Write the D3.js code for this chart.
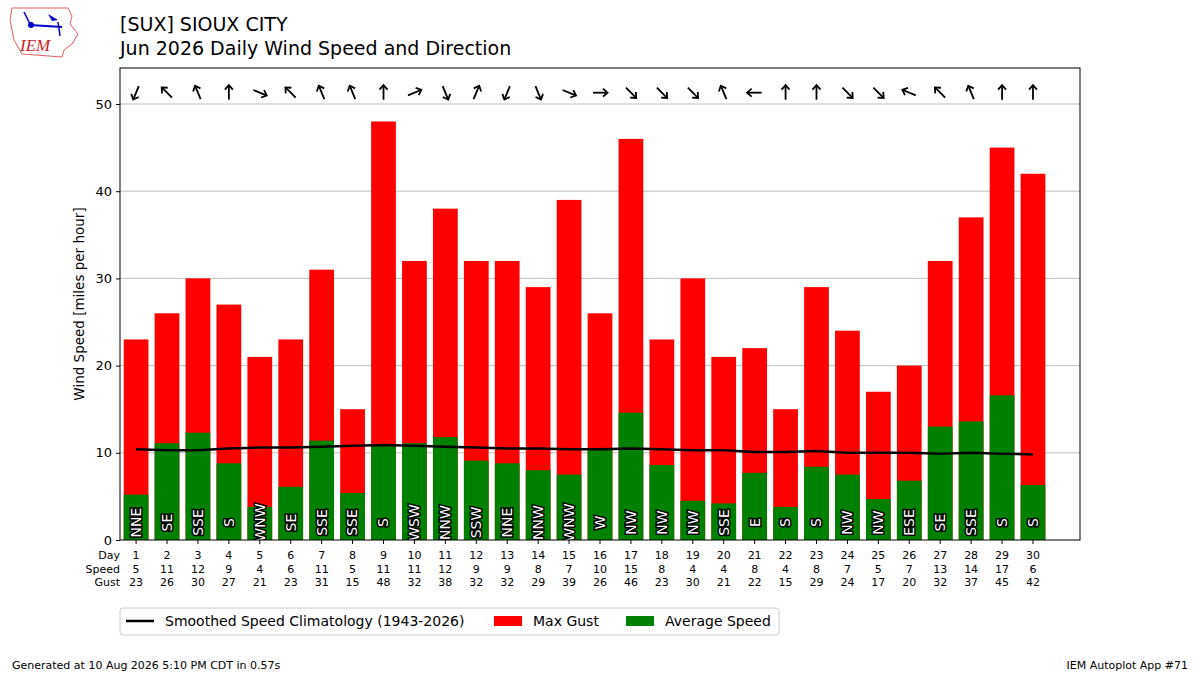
<!DOCTYPE html>
<html><head><meta charset="utf-8">
<script src="https://cdn.jsdelivr.net/npm/d3@7"></script>
<style>body{margin:0;background:#fff;font-family:"DejaVu Sans",sans-serif;}</style>
</head><body><svg id="c" width="1200" height="675"></svg>
<script>
// daily data, Jun 2026
const days = d3.range(1, 31);
const avgSpeed = [5.2,11.1,12.3,8.8,3.8,6.1,11.4,5.4,10.8,11.1,11.8,9.1,8.8,8.0,7.5,10.3,14.6,8.6,4.5,4.2,7.7,3.8,8.4,7.5,4.7,6.8,13.0,13.6,16.6,6.3];
const speedLbl = [5,11,12,9,4,6,11,5,11,11,12,9,9,8,7,10,15,8,4,4,8,4,8,7,5,7,13,14,17,6];
const gust = [23,26,30,27,21,23,31,15,48,32,38,32,32,29,39,26,46,23,30,21,22,15,29,24,17,20,32,37,45,42];
const dirs = ["NNE","SE","SSE","S","WNW","SE","SSE","SSE","S","WSW","NNW","SSW","NNE","NNW","WNW","W","NW","NW","NW","SSE","E","S","S","NW","NW","ESE","SE","SSE","S","S"];
const clim = [10.4,10.3,10.3,10.5,10.6,10.6,10.7,10.8,10.9,10.8,10.7,10.6,10.5,10.5,10.4,10.4,10.5,10.4,10.3,10.3,10.1,10.1,10.2,10.0,10.0,10.0,9.9,10.0,9.9,9.8];
const yTicks = [0,10,20,30,40,50];

const compass = ["N","NNE","NE","ENE","E","ESE","SE","SSE","S","SSW","SW","WSW","W","WNW","NW","NNW"];
const svg = d3.select("#c");
const L = 120, R = 1080, T = 68, B = 540;
const x = d3.scaleLinear().domain([0.48, 31.52]).range([L, R]);
const y = d3.scaleLinear().domain([0, 54.13]).range([B, T]);
const bw = x(1.4) - x(0.6);

svg.append("defs").append("clipPath").attr("id", "clip")
  .append("rect").attr("x", L).attr("y", T).attr("width", R - L).attr("height", B - T);

// grid
svg.append("g").selectAll("line").data(yTicks.slice(1)).join("line")
  .attr("x1", L).attr("x2", R).attr("y1", d => y(d)).attr("y2", d => y(d))
  .attr("stroke", "#b0b0b0").attr("stroke-width", 0.8);

const g = svg.append("g").attr("clip-path", "url(#clip)");
g.selectAll(".gust").data(days).join("rect")
  .attr("x", d => x(d) - bw / 2).attr("width", bw)
  .attr("y", (d, i) => y(gust[i])).attr("height", (d, i) => B - y(gust[i]))
  .attr("fill", "#ff0000");
g.selectAll(".avg").data(days).join("rect")
  .attr("x", d => x(d) - bw / 2).attr("width", bw)
  .attr("y", (d, i) => y(avgSpeed[i])).attr("height", (d, i) => B - y(avgSpeed[i]))
  .attr("fill", "#008000");
g.selectAll(".dl").data(days).join("text")
  .attr("transform", (d) => `translate(${x(d)},${y(2)}) rotate(-90)`)
  .attr("text-anchor", "middle").attr("dy", "0.35em")
  .attr("font-size", 14).attr("fill", "#fff").attr("stroke", "#000")
  .attr("stroke-width", 3).attr("paint-order", "stroke")
  .text((d, i) => dirs[i]);

g.append("path").datum(days)
  .attr("d", d3.line().x(d => x(d)).y((d, i) => y(clim[i])))
  .attr("fill", "none").attr("stroke", "#000").attr("stroke-width", 2.5);

// wind arrows (pointing downwind)
const ag = svg.append("g");
days.forEach((d, i) => {
  const deg = compass.indexOf(dirs[i]) * 22.5 + 180;
  const a = ag.append("g").attr("transform", `translate(${x(d)},${y(51.3)}) rotate(${deg})`);
  a.append("line").attr("x1", 0).attr("y1", 7).attr("x2", 0).attr("y2", -7)
    .attr("stroke", "#000").attr("stroke-width", 1.8);
  a.append("path").attr("d", "M-4,-3 L0,-7.5 L4,-3").attr("fill", "none")
    .attr("stroke", "#000").attr("stroke-width", 1.8);
});

// frame
svg.append("rect").attr("x", L).attr("y", T).attr("width", R - L).attr("height", B - T)
  .attr("fill", "none").attr("stroke", "#000").attr("stroke-width", 1);

// y axis
const ya = svg.append("g").attr("transform", `translate(${L},0)`)
  .call(d3.axisLeft(y).tickValues(yTicks).tickSize(4).tickPadding(4));
ya.select(".domain").remove();
ya.selectAll("text").attr("font-size", 13).attr("font-family", "DejaVu Sans");
svg.append("text").attr("transform", `translate(84,${(T + B) / 2}) rotate(-90)`)
  .attr("text-anchor", "middle").attr("font-size", 13.5).text("Wind Speed [miles per hour]");

// x ticks + 3 row labels
const xa = svg.append("g").attr("transform", `translate(0,${B})`);
xa.selectAll("line").data(days).join("line")
  .attr("x1", d => x(d)).attr("x2", d => x(d)).attr("y1", 0).attr("y2", 4).attr("stroke", "#000");
const rows = [["Day", days], ["Speed", speedLbl], ["Gust", gust]];
rows.forEach(([lab, vals], r) => {
  const yy = 559 + r * 13.5;
  xa.append("text").attr("x", 120).attr("y", yy - B).attr("text-anchor", "end")
    .attr("font-size", 11).text(lab);
  xa.selectAll(".r" + r).data(vals).join("text")
    .attr("x", (v, i) => x(i + 1)).attr("y", yy - B).attr("text-anchor", "middle")
    .attr("font-size", 11).text(v => v);
});

// titles
svg.append("text").attr("x", 120).attr("y", 31).attr("font-size", 19).text("[SUX] SIOUX CITY");
svg.append("text").attr("x", 120).attr("y", 55).attr("font-size", 19).text("Jun 2026 Daily Wind Speed and Direction");

// logo
const lg = svg.append("g");
lg.append("path").attr("d", "M12,8 L68,8 L72,16 L70,24 L78,34 L72,44 L64,50 L62,57 L22,54 L14,40 L10,20 Z")
  .attr("fill", "none").attr("stroke", "#e06060").attr("stroke-width", 1);
lg.append("line").attr("x1", 30).attr("y1", 25).attr("x2", 62).attr("y2", 27).attr("stroke", "#0000cc").attr("stroke-width", 2);
lg.append("circle").attr("cx", 31).attr("cy", 25).attr("r", 3).attr("fill", "#0000cc");
lg.append("path").attr("d", "M48,14 L58,20 L52,21 Z").attr("fill", "#0000cc");
lg.append("line").attr("x1", 24).attr("y1", 12).attr("x2", 30).attr("y2", 24).attr("stroke", "#0000cc").attr("stroke-width", 1.5);
lg.append("line").attr("x1", 58).attr("y1", 22).attr("x2", 60).attr("y2", 36).attr("stroke", "#0000cc").attr("stroke-width", 1.5);
lg.append("text").attr("x", 20).attr("y", 51).attr("font-family", "Liberation Serif").attr("font-style", "italic")
  .attr("font-size", 17).attr("fill", "#cc2222").text("IEM");

// legend
const lgd = svg.append("g");
lgd.append("rect").attr("x", 120).attr("y", 608).attr("width", 659).attr("height", 27)
  .attr("fill", "#fff").attr("stroke", "#ccc").attr("rx", 3);
lgd.append("line").attr("x1", 126).attr("x2", 154).attr("y1", 621).attr("y2", 621).attr("stroke", "#000").attr("stroke-width", 2.5);
lgd.append("text").attr("x", 165).attr("y", 626).attr("font-size", 14).text("Smoothed Speed Climatology (1943-2026)");
lgd.append("rect").attr("x", 494).attr("y", 616).attr("width", 28).attr("height", 10).attr("fill", "#ff0000");
lgd.append("text").attr("x", 533).attr("y", 626).attr("font-size", 14).text("Max Gust");
lgd.append("rect").attr("x", 626).attr("y", 616).attr("width", 28).attr("height", 10).attr("fill", "#008000");
lgd.append("text").attr("x", 665).attr("y", 626).attr("font-size", 14).text("Average Speed");

// footer
svg.append("text").attr("x", 12).attr("y", 669).attr("font-size", 11).text("Generated at 10 Aug 2026 5:10 PM CDT in 0.57s");
svg.append("text").attr("x", 1188).attr("y", 669).attr("text-anchor", "end").attr("font-size", 11).text("IEM Autoplot App #71");
</script></body></html>
